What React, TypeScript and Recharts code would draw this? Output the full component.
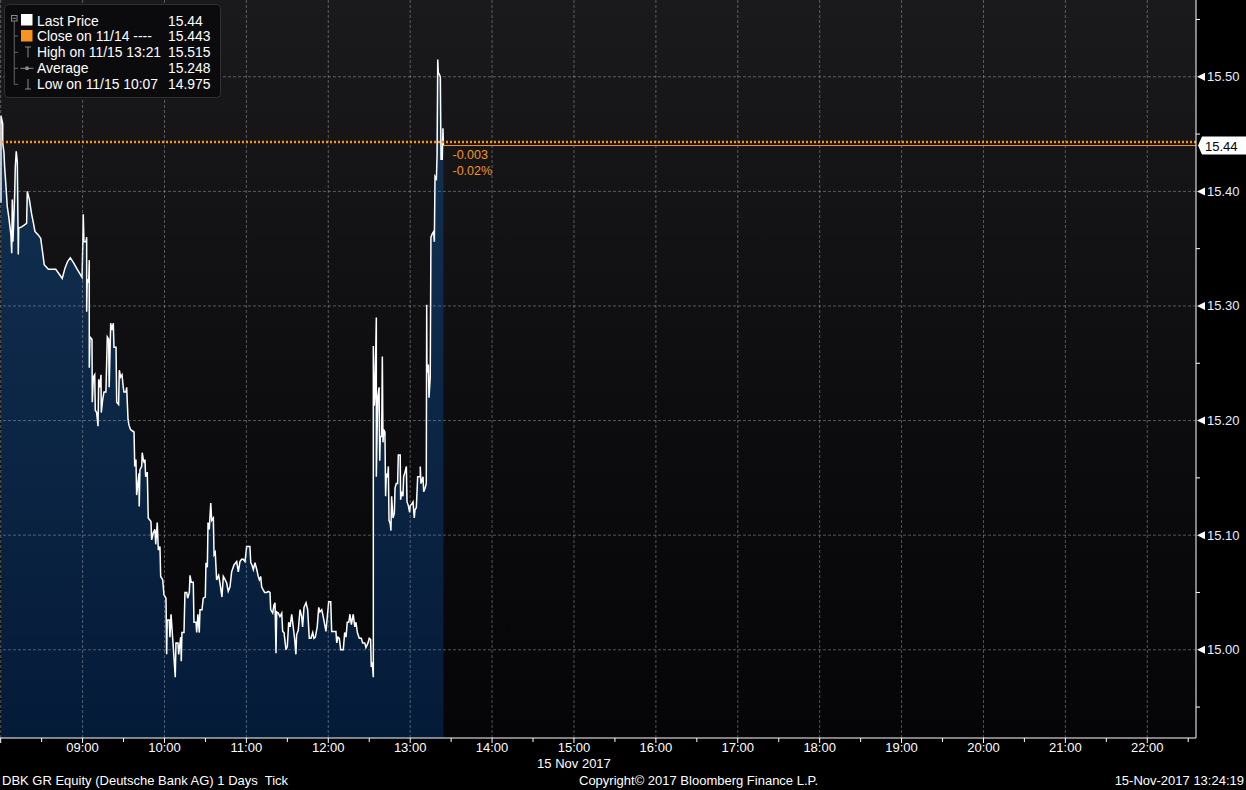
import React from 'react';
import {
  ComposedChart,
  Area,
  XAxis,
  YAxis,
  CartesianGrid,
  ReferenceLine,
  ReferenceDot,
} from 'recharts';

// ---- data (minutes since midnight, 15 Nov 2017) ----
const tickTimes = [
  480.2, 480.2, 481.5, 481.5, 482.4, 482.9, 483.9, 484.8, 485.9, 486.8, 487.5, 488.1, 488.5, 489.0, 489.7, 490.3, 490.7, 491.4, 492.2, 492.9,
  493.2, 495.4, 499.0, 499.5, 501.0, 502.7, 503.9, 505.1, 507.5, 509.3, 510.8, 511.9, 514.9, 520.3, 522.2, 525.1, 527.1, 529.1, 531.0, 533.2,
  536.1, 538.1, 539.6, 540.1, 540.5, 541.0, 542.5, 543.0, 543.0, 543.4, 544.5, 544.9, 544.9, 545.4, 546.9, 547.1, 547.9, 548.9, 549.3, 550.3,
  551.3, 551.8, 552.7, 553.5, 553.7, 554.7, 555.7, 557.1, 558.1, 559.1, 559.5, 560.6, 561.5, 562.5, 563.0, 564.5, 565.0, 566.4, 566.9, 567.9,
  568.9, 569.8, 570.3, 571.8, 572.3, 573.3, 574.0, 575.2, 577.7, 578.2, 579.1, 579.6, 580.1, 581.3, 581.5, 582.0, 583.3, 583.7, 584.5, 585.2,
  585.7, 586.2, 587.4, 588.1, 589.4, 590.1, 590.6, 591.8, 593.0, 593.6, 594.7, 595.5, 596.7, 597.2, 598.7, 599.6, 601.1, 601.6, 602.0, 603.5,
  604.0, 604.8, 606.0, 606.4, 607.9, 608.4, 609.9, 610.4, 611.9, 612.3, 612.8, 614.3, 615.0, 616.3, 617.0, 618.2, 618.7, 619.6, 621.1, 621.6,
  623.1, 623.6, 624.5, 625.5, 626.0, 627.5, 628.4, 629.9, 630.4, 631.4, 631.9, 632.8, 633.9, 634.6, 635.8, 636.3, 637.2, 638.2, 639.7, 640.7,
  642.1, 643.1, 644.5, 645.6, 646.7, 648.0, 649.2, 650.9, 652.9, 654.1, 655.3, 656.5, 657.7, 659.0, 660.2, 662.6, 663.2, 664.1, 665.1, 666.3,
  667.6, 668.7, 669.5, 670.5, 671.2, 672.4, 673.4, 674.9, 676.1, 677.3, 677.8, 679.3, 680.2, 681.0, 681.7, 682.2, 683.4, 684.6, 685.9, 686.6,
  687.6, 689.0, 690.0, 691.0, 692.0, 693.2, 694.4, 695.4, 696.3, 696.8, 698.0, 699.3, 700.5, 701.2, 702.2, 703.7, 704.9, 705.6, 706.1, 707.3,
  708.6, 709.5, 710.5, 711.9, 713.0, 713.9, 715.2, 716.3, 717.4, 718.3, 719.3, 720.3, 721.8, 722.5, 723.7, 725.6, 726.2, 727.1, 728.1, 729.1,
  731.0, 732.0, 733.0, 733.9, 735.0, 735.9, 736.9, 738.3, 739.4, 740.3, 741.3, 742.7, 744.2, 745.2, 746.7, 747.6, 749.1, 750.0, 751.0, 751.5,
  752.2, 753.0, 753.0, 753.7, 754.2, 755.2, 755.2, 756.2, 757.2, 757.7, 758.1, 759.1, 759.6, 760.1, 760.6, 761.5, 762.0, 762.5, 763.5, 764.0,
  764.5, 765.4, 765.9, 766.4, 767.4, 768.4, 768.9, 769.8, 770.8, 771.3, 772.7, 773.0, 773.8, 774.7, 775.2, 776.2, 777.2, 777.7, 778.6, 779.6,
  780.1, 781.1, 782.1, 783.0, 783.5, 784.5, 785.5, 787.4, 787.4, 787.9, 789.4, 789.9, 790.9, 791.8, 792.1, 792.3, 793.3, 793.8, 794.7, 795.2,
  796.2, 797.2, 797.7, 798.2, 799.2, 799.7, 800.2, 800.6, 802.1, 802.6, 803.5, 804.0, 804.4,
];

const tickPrices = [
  15.390, 15.466, 15.459, 15.442, 15.434, 15.421, 15.404, 15.387, 15.378, 15.369, 15.362, 15.346, 15.393, 15.356, 15.378, 15.400, 15.421, 15.435, 15.425, 15.345,
  15.368, 15.369, 15.372, 15.400, 15.393, 15.380, 15.373, 15.365, 15.362, 15.359, 15.346, 15.336, 15.332, 15.332, 15.329, 15.324, 15.333, 15.339, 15.342, 15.338,
  15.332, 15.328, 15.325, 15.351, 15.380, 15.356, 15.356, 15.360, 15.295, 15.323, 15.321, 15.340, 15.246, 15.273, 15.271, 15.216, 15.238, 15.240, 15.209, 15.207,
  15.195, 15.236, 15.229, 15.240, 15.207, 15.218, 15.225, 15.225, 15.273, 15.271, 15.229, 15.285, 15.279, 15.285, 15.264, 15.264, 15.216, 15.214, 15.244, 15.238,
  15.240, 15.229, 15.225, 15.225, 15.229, 15.201, 15.196, 15.192, 15.190, 15.160, 15.166, 15.135, 15.140, 15.154, 15.125, 15.157, 15.160, 15.172, 15.166, 15.163,
  15.166, 15.151, 15.155, 15.115, 15.113, 15.112, 15.096, 15.102, 15.105, 15.092, 15.111, 15.087, 15.090, 15.064, 15.061, 15.048, 15.045, 14.996, 15.026, 15.026,
  15.011, 15.031, 15.010, 15.003, 14.976, 15.006, 15.006, 14.996, 15.011, 14.990, 15.015, 15.015, 15.050, 15.050, 15.045, 15.050, 15.065, 15.059, 15.059, 15.024,
  15.024, 15.015, 15.031, 15.015, 15.035, 15.035, 15.045, 15.046, 15.076, 15.072, 15.111, 15.105, 15.128, 15.113, 15.115, 15.083, 15.085, 15.061, 15.065, 15.058,
  15.046, 15.064, 15.061, 15.058, 15.051, 15.055, 15.068, 15.074, 15.077, 15.068, 15.077, 15.079, 15.079, 15.077, 15.090, 15.090, 15.076, 15.074, 15.070, 15.076,
  15.070, 15.064, 15.061, 15.064, 15.055, 15.052, 15.050, 15.050, 15.051, 15.050, 15.035, 15.032, 15.039, 15.041, 14.997, 15.033, 15.032, 15.029, 15.032, 15.016,
  15.015, 15.000, 15.003, 15.024, 15.020, 15.031, 15.019, 15.009, 14.996, 15.013, 15.017, 15.035, 15.029, 15.020, 15.037, 15.041, 15.035, 15.020, 15.010, 15.010,
  15.015, 15.010, 15.011, 15.020, 15.037, 15.033, 15.035, 15.029, 15.022, 15.016, 15.029, 15.042, 15.042, 15.016, 15.016, 15.016, 15.006, 15.011, 15.010, 15.000,
  15.000, 15.015, 15.011, 15.024, 15.024, 15.031, 15.022, 15.031, 15.020, 15.024, 15.015, 15.010, 15.010, 15.006, 15.006, 15.002, 15.006, 15.010, 15.009, 14.985,
  14.989, 14.976, 15.265, 15.213, 15.222, 15.290, 15.151, 15.220, 15.229, 15.165, 15.186, 15.186, 15.256, 15.181, 15.192, 15.190, 15.134, 15.153, 15.151, 15.160,
  15.113, 15.110, 15.104, 15.134, 15.115, 15.119, 15.141, 15.145, 15.145, 15.170, 15.170, 15.131, 15.138, 15.134, 15.151, 15.155, 15.160, 15.129, 15.126, 15.120,
  15.126, 15.127, 15.129, 15.115, 15.122, 15.124, 15.151, 15.151, 15.160, 15.145, 15.151, 15.138, 15.141, 15.145, 15.301, 15.242, 15.249, 15.220, 15.238, 15.360,
  15.363, 15.365, 15.356, 15.413, 15.411, 15.431, 15.515, 15.504, 15.500, 15.428, 15.428, 15.455, 15.440,
];

const xTicks = [
  480, 510, 540, 570, 600, 630, 660, 690, 720, 750, 780, 810, 840, 870, 900, 930, 960, 990,
  1020, 1050, 1080, 1110, 1140, 1170, 1200, 1230, 1260, 1290, 1320, 1350,
];
const hourLines = [480, 540, 600, 660, 720, 780, 840, 900, 960, 1020, 1080, 1140, 1200, 1260, 1320];
const yTicks = [14.95, 15.0, 15.05, 15.1, 15.15, 15.2, 15.25, 15.3, 15.35, 15.4, 15.45, 15.5, 15.55];
const priceLines = [15.0, 15.1, 15.2, 15.3, 15.4, 15.5];

const closePrice = 15.443;
const lastPrice = 15.44;
const netChange = '-0.003';
const pctChange = '-0.02%';
const dateLabel = '15 Nov 2017';

const legendLabels = ['Last Price', 'Close on 11/14 ----', 'High on 11/15 13:21', 'Average', 'Low on 11/15 10:07'];
const legendValues = ['15.44', '15.443', '15.515', '15.248', '14.975'];

const footerLeft = 'DBK GR Equity (Deutsche Bank AG) 1 Days  Tick';
const footerMid = 'Copyright\u00A9 2017 Bloomberg Finance L.P.';
const footerRight = '15-Nov-2017 13:24:19';

const X_MIN = 479.5;
const X_MAX = 1355.7;
const Y_MIN = 14.923;
const Y_MAX = 15.567;

const FONT = '"Liberation Sans", Arial, sans-serif';
const ORANGE = '#f7941d';
const GRID = 'rgba(187,187,195,0.42)';

const chartData = tickTimes.map((t, i) => ({ t, price: tickPrices[i] }));

const fmtHour = (m: number) => `${String(Math.floor(m / 60)).padStart(2, '0')}:00`;

function XTick(props: any) {
  const { x, y, payload } = props;
  const v = payload.value as number;
  const isHour = v % 60 === 0;
  return (
    <g>
      <line x1={x} y1={y} x2={x} y2={y + (isHour ? 5 : 4)} stroke="#fff" strokeWidth={1} />
      {isHour && v >= 540 && (
        <text x={x} y={y + 14} textAnchor="middle" fill="#fff" fontSize={13} fontFamily={FONT}>
          {fmtHour(v)}
        </text>
      )}
      {v === 900 && (
        <text x={x} y={y + 30} textAnchor="middle" fill="#fff" fontSize={13} fontFamily={FONT}>
          {dateLabel}
        </text>
      )}
    </g>
  );
}

function YTick(props: any) {
  const { x, y, payload } = props;
  const v = payload.value as number;
  const major = Math.round(v * 100) % 10 === 0;
  if (!major) {
    return <line x1={x} y1={y} x2={x + 4} y2={y} stroke="#fff" strokeWidth={1} />;
  }
  return (
    <g>
      <polygon points={`${x + 1},${y} ${x + 9},${y - 4} ${x + 9},${y + 4}`} fill="#fff" />
      <text x={x + 11} y={y + 4.5} fill="#e6eefc" fontSize={13} fontFamily={FONT}>
        {v.toFixed(2)}
      </text>
    </g>
  );
}

function LastTag(props: any) {
  const { cx, cy } = props;
  return (
    <g>
      <polygon
        points={`${cx + 2},${cy} ${cx + 6},${cy - 9} ${cx + 50},${cy - 9} ${cx + 50},${cy + 9} ${cx + 6},${cy + 9}`}
        fill="#fff"
      />
      <text x={cx + 9} y={cy + 5} fill="#000" fontSize={13} fontFamily={FONT}>
        {lastPrice.toFixed(2)}
      </text>
    </g>
  );
}

function ChangeLabel(props: any) {
  const { cx, cy } = props;
  return (
    <g>
      <text x={cx + 9} y={cy + 13.5} fill={ORANGE} fontSize={12.5} fontFamily={FONT}>
        {netChange}
      </text>
      <text x={cx + 9} y={cy + 29.5} fill={ORANGE} fontSize={12.5} fontFamily={FONT}>
        {pctChange}
      </text>
    </g>
  );
}

function LegendBox() {
  const rowY = [20.7, 36, 52.3, 68.3, 84.3];
  const gray = '#8a8a8a';
  return (
    <svg width={230} height={104} style={{ position: 'absolute', left: 0, top: 0 }}>
      <rect x={4.5} y={4.5} width={216} height={93} rx={4} fill="#0b0b0e" stroke="#303033" />
      {/* tree */}
      <rect x={11.5} y={15.5} width={5.5} height={5.5} fill="none" stroke={gray} />
      <line x1={12.5} y1={18.3} x2={16} y2={18.3} stroke={gray} />
      <line x1={14.25} y1={21} x2={14.25} y2={84} stroke="#666" />
      {rowY.slice(1).map((ry, i) => (
        <line key={i} x1={14} y1={ry} x2={18} y2={ry} stroke="#666" />
      ))}
      {/* icons */}
      <rect x={21} y={14} width={11.5} height={11.5} fill="#fff" />
      <rect x={21} y={30} width={11.5} height={11.5} fill={ORANGE} />
      <line x1={25} y1={47} x2={31} y2={47} stroke={gray} />
      <line x1={28} y1={47} x2={28} y2={57.5} stroke={gray} />
      <line x1={20.5} y1={68.3} x2={33.5} y2={68.3} stroke={gray} />
      <circle cx={27} cy={68.3} r={2} fill={gray} />
      <line x1={28} y1={79} x2={28} y2={89} stroke={gray} />
      <line x1={25} y1={89} x2={31} y2={89} stroke={gray} />
      {legendLabels.map((l, i) => (
        <text key={l} x={37} y={rowY[i] + 5} fill="#fff" fontSize={13.9} fontFamily={FONT}>
          {l}
        </text>
      ))}
      {legendValues.map((v, i) => (
        <text key={i} x={168} y={rowY[i] + 5} fill="#fff" fontSize={13.9} fontFamily={FONT}>
          {v}
        </text>
      ))}
    </svg>
  );
}

export default function App() {
  const footStyle: React.CSSProperties = {
    position: 'absolute',
    top: 773,
    fontFamily: FONT,
    fontSize: 13,
    lineHeight: '16px',
    color: '#fff',
    whiteSpace: 'pre',
  };
  return (
    <div style={{ position: 'absolute', left: 0, top: 0, width: 1246, height: 790, background: '#000', overflow: 'hidden' }}>
      <ComposedChart width={1246} height={790} data={chartData} margin={{ top: 0, right: 0, bottom: 0, left: 0 }}>
        <defs>
          <linearGradient id="bgGrad" x1="0" y1="0" x2="0" y2="1">
            <stop offset="0%" stopColor="#1a1a1c" />
            <stop offset="55%" stopColor="#0d0d10" />
            <stop offset="100%" stopColor="#050507" />
          </linearGradient>
          <linearGradient id="areaGrad" x1="0" y1="0" x2="0" y2="1">
            <stop offset="0%" stopColor="#143253" />
            <stop offset="100%" stopColor="#041b38" />
          </linearGradient>
        </defs>
        <CartesianGrid horizontal={false} vertical={false} fill="url(#bgGrad)" stroke="none" />
        <XAxis
          dataKey="t"
          type="number"
          domain={[X_MIN, X_MAX]}
          ticks={xTicks}
          interval={0}
          allowDataOverflow
          height={52}
          tickSize={0}
          tickMargin={0}
          tickLine={false}
          axisLine={{ stroke: '#fff', strokeWidth: 1 }}
          tick={<XTick />}
        />
        <YAxis
          orientation="right"
          type="number"
          domain={[Y_MIN, Y_MAX]}
          ticks={yTicks}
          interval={0}
          allowDataOverflow
          width={50}
          tickSize={0}
          tickMargin={0}
          tickLine={false}
          axisLine={{ stroke: '#fff', strokeWidth: 1 }}
          tick={<YTick />}
        />
        <Area
          type="linear"
          dataKey="price"
          stroke="#ffffff"
          strokeWidth={1.5}
          fill="url(#areaGrad)"
          fillOpacity={1}
          baseValue={Y_MIN}
          dot={false}
          activeDot={false}
          isAnimationActive={false}
        />
        {hourLines.map((h) => (
          <ReferenceLine key={`v${h}`} x={h} stroke={GRID} strokeDasharray="3 2" ifOverflow="visible" />
        ))}
        {priceLines.map((p) => (
          <ReferenceLine key={`h${p}`} y={p} stroke={GRID} strokeDasharray="3 2" />
        ))}
        <ReferenceLine y={closePrice} stroke={ORANGE} strokeWidth={2.5} strokeDasharray="2 2" />
        <ReferenceLine
          segment={[
            { x: tickTimes[tickTimes.length - 1], y: lastPrice },
            { x: X_MAX, y: lastPrice },
          ]}
          stroke={ORANGE}
          strokeWidth={1}
        />
        <ReferenceDot
          x={tickTimes[tickTimes.length - 1]}
          y={lastPrice}
          r={0}
          ifOverflow="visible"
          shape={(p: any) => <ChangeLabel {...p} />}
        />
        <ReferenceDot x={X_MAX} y={lastPrice} r={0} ifOverflow="visible" shape={(p: any) => <LastTag {...p} />} />
      </ComposedChart>
      <LegendBox />
      <div style={{ ...footStyle, left: 2 }}>{footerLeft}</div>
      <div style={{ ...footStyle, left: 579 }}>{footerMid}</div>
      <div style={{ ...footStyle, right: 2, textAlign: 'right' }}>{footerRight}</div>
    </div>
  );
}
